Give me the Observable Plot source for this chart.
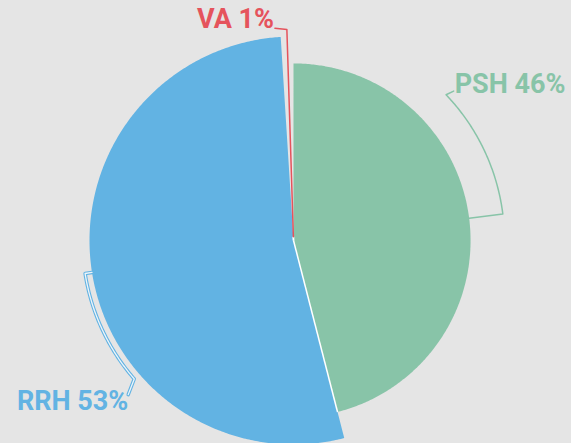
<!DOCTYPE html>
<html>
<head>
<meta charset="utf-8">
<script src="https://cdn.jsdelivr.net/npm/d3@7"></script>
<script src="https://cdn.jsdelivr.net/npm/@observablehq/plot@0.6"></script>
<style>
  html, body { margin: 0; padding: 0; background: #e5e5e5; }
  #chart { width: 571px; height: 443px; }
</style>
</head>
<body>
<div id="chart"></div>
<script>
// ---- data ----
const categories = ["PSH", "RRH", "VA"];
const shares = [46, 53, 1];
const labels = ["PSH 46%", "RRH 53%", "VA 1%"];
const colors = ["#88c4a8", "#62b3e3", "#e5535c"];

// ---- layout (not data) ----
const W = 571, H = 443;
const cx = 293, cy = 240;
const maxR = 204;            // radius of the largest share
const leaderR = 211;
const labelLayout = {
  PSH: {arcTo: 46.3, tickA: 47, tickR: 219, anchor: "start", line: "bottom", dx: 1, dy: 2},
  RRH: {arcTo: 229, tickA: 227, tickR: 226, anchor: "end", line: "top", dx: 0, dy: -4},
  VA:  {arcTo: 358.2, tickA: 355, tickR: 213, anchor: "end", line: "bottom", dx: -1, dy: 0}
};

const total = d3.sum(shares);
const rScale = d3.scaleLinear().domain([0, d3.max(shares)]).range([0, maxR]);
const toRad = (deg) => deg * Math.PI / 180;
const polar = (deg, r) => ({x: cx + r * Math.sin(toRad(deg)), y: cy - r * Math.cos(toRad(deg))});

// slice angles
let acc = 0;
const slices = categories.map((c, i) => {
  const a0 = acc / total * 360;
  acc += shares[i];
  const a1 = acc / total * 360;
  return {cat: c, a0, a1, mid: (a0 + a1) / 2, r: rScale(shares[i]), color: colors[i], label: labels[i]};
});

function arcPts(a0, a1, r) {
  const n = Math.max(2, Math.ceil(Math.abs(a1 - a0) / 0.5));
  return d3.range(n + 1).map(k => polar(a0 + (a1 - a0) * k / n, r));
}

const marks = [];
// slice fills
for (const s of slices) {
  const pts = [{x: cx, y: cy}, ...arcPts(s.a0, s.a1, s.r), {x: cx, y: cy}];
  marks.push(Plot.line(pts, {x: "x", y: "y", fill: s.color, stroke: "none", curve: "linear"}));
}
// white dividers between adjacent slices
const dividers = slices.map((s, i) => {
  const next = slices[(i + 1) % slices.length];
  const p = polar(s.a1, Math.min(s.r, next.r));
  return {x1: cx, y1: cy, x2: p.x, y2: p.y};
});
marks.push(Plot.link(dividers, {x1: "x1", y1: "y1", x2: "x2", y2: "y2", stroke: "white", strokeWidth: 1.5}));

// leader lines and labels
for (const s of slices) {
  const L = labelLayout[s.cat];
  const pts = [polar(s.mid, s.r), ...arcPts(s.mid, L.arcTo, leaderR), polar(L.tickA, L.tickR)];
  if (s.cat === "RRH") {
    marks.push(Plot.line(pts, {x: "x", y: "y", stroke: s.color, strokeWidth: 3.5, curve: "linear"}));
    marks.push(Plot.line(pts, {x: "x", y: "y", stroke: "#eef5fa", strokeWidth: 1.3, curve: "linear"}));
  } else {
    marks.push(Plot.line(pts, {x: "x", y: "y", stroke: s.color, strokeWidth: 1.5, curve: "linear"}));
  }
  const end = polar(L.tickA, L.tickR);
  marks.push(Plot.text([{x: end.x, y: end.y, t: s.label}], {
    x: "x", y: "y", text: "t", fill: s.color,
    textAnchor: L.anchor, lineAnchor: L.line, dx: L.dx, dy: L.dy,
    fontSize: 27, fontWeight: 700, fontFamily: "Roboto, 'Open Sans', sans-serif"
  }));
}

const chart = Plot.plot({
  width: W,
  height: H,
  margin: 0,
  x: {domain: [0, W], range: [0, W], axis: null},
  y: {domain: [0, H], range: [0, H], axis: null},
  style: {background: "#e5e5e5", overflow: "visible"},
  marks
});
document.getElementById("chart").appendChild(chart);
</script>
</body>
</html>
